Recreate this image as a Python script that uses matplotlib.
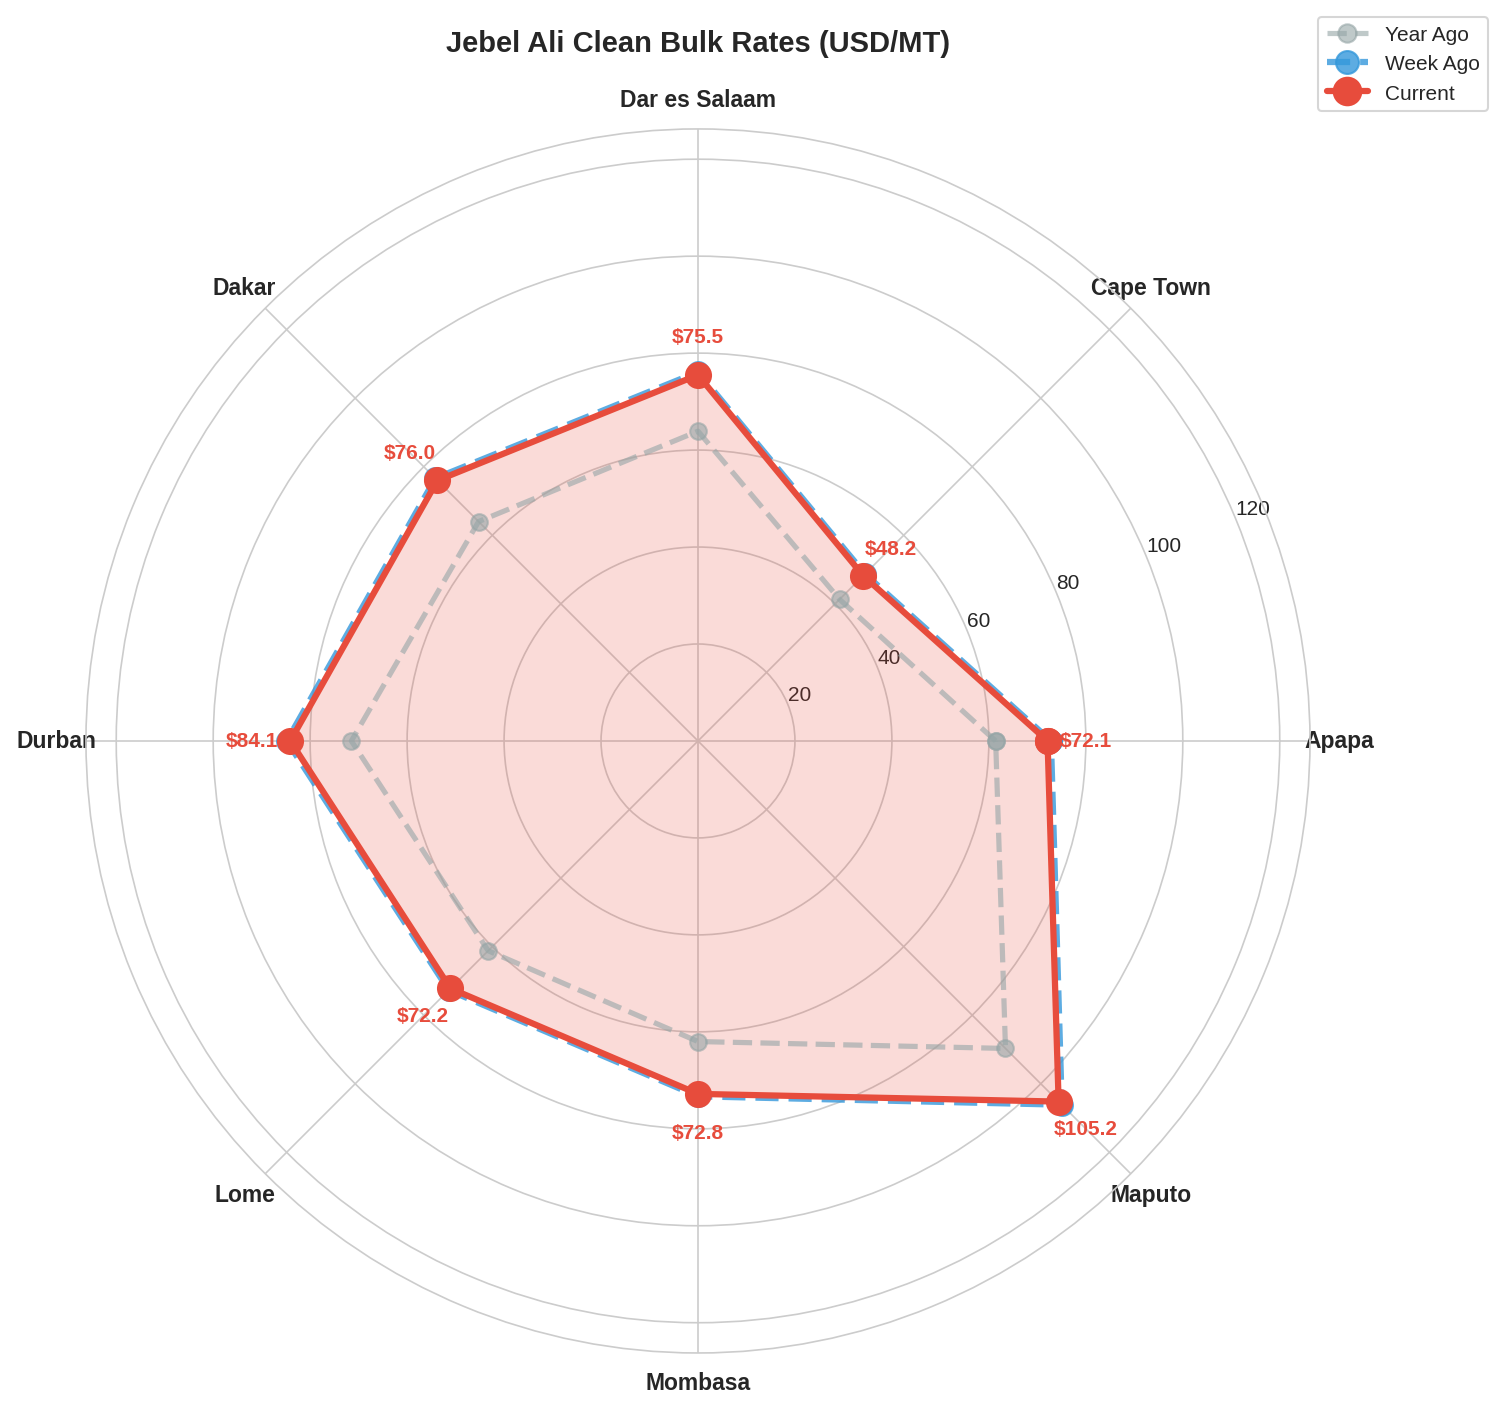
import matplotlib
matplotlib.use("Agg")
import matplotlib.pyplot as plt
import seaborn as sns
import numpy as np

ports = ["Apapa", "Cape Town", "Dar es Salaam", "Dakar", "Durban", "Lome", "Mombasa", "Maputo"]
year_ago = [61.4, 41.3, 63.9, 64.0, 71.5, 61.2, 62.0, 89.7]
week_ago = [72.8, 48.7, 76.1, 76.6, 84.8, 72.7, 73.3, 106.1]
current = [72.1, 48.2, 75.5, 76.0, 84.1, 72.2, 72.8, 105.2]
r_ticks = [20, 40, 60, 80, 100, 120]

sns.set_style("whitegrid")
plt.rcParams['font.family'] = ['Liberation Sans', 'DejaVu Sans']

n = len(ports)
angles = np.linspace(0, 2 * np.pi, n, endpoint=False).tolist()
angles += angles[:1]

def closed(v):
    return list(v) + [v[0]]

fig = plt.figure(figsize=(10.02, 9.413), dpi=150)
ax = fig.add_axes([0.0572, 0.0411, 0.8144, 0.8669], projection="polar")

ax.plot(angles, closed(year_ago), "o--", color="#95a5a6", lw=2.5, ms=8,
        alpha=0.6, label="Year Ago")
ax.plot(angles, closed(week_ago), "o--", color="#3498db", lw=3, ms=10,
        alpha=0.8, label="Week Ago")
ax.plot(angles, closed(current), "o-", color="#e74c3c", lw=3, ms=12,
        label="Current")
ax.fill(angles, closed(current), color="#e74c3c", alpha=0.2)

# value labels just outside the current line
for a, v in zip(angles[:-1], current):
    ax.text(a, v + 8, f"${v:.1f}", color="#e74c3c", fontsize=10,
            fontweight="bold", ha="center", va="center")

ax.set_xticks(angles[:-1])
ax.set_xticklabels(ports, fontsize=11, fontweight="bold")
ax.set_ylim(0, max(current) * 1.2)
ax.set_yticks(r_ticks)
ax.set_yticklabels([str(t) for t in r_ticks], fontsize=10)
ax.set_rlabel_position(22.5)

fig.suptitle("Jebel Ali Clean Bulk Rates (USD/MT)", fontsize=14,
             fontweight="bold", y=0.979, x=0.4644)
ax.legend(loc="upper right", bbox_to_anchor=(0.997, 0.995),
          bbox_transform=fig.transFigure, fontsize=10, markerscale=1.1)

fig.savefig("out.png", dpi=150)
